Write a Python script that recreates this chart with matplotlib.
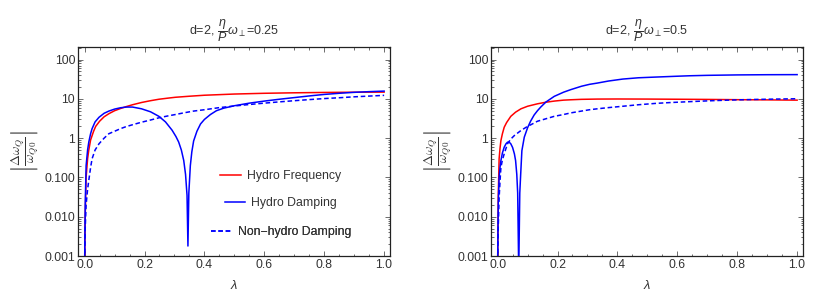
import matplotlib
matplotlib.use("Agg")
import matplotlib.pyplot as plt
from matplotlib.ticker import FixedLocator, FixedFormatter, MultipleLocator, LogLocator, NullFormatter
from matplotlib.lines import Line2D

plt.rcParams['font.family'] = ['Liberation Sans', 'DejaVu Sans']
plt.rcParams['mathtext.fontset'] = 'custom'
plt.rcParams['mathtext.rm'] = 'Liberation Sans'
plt.rcParams['mathtext.it'] = 'Liberation Sans:italic'
plt.rcParams['mathtext.fallback'] = 'stix'

# ---------------- data: left panel (eta/P * omega_perp = 0.25) ----------------
freq_L_lam = [0, 0.002, 0.005, 0.01, 0.014, 0.02, 0.03, 0.037, 0.05, 0.065, 0.081, 0.1, 0.12,
              0.137, 0.16, 0.19, 0.22, 0.248, 0.28, 0.303, 0.35, 0.4, 0.5, 0.6, 0.7, 0.8, 0.9, 1.0]
freq_L_val = [0.0005, 0.01, 0.1, 0.3, 0.5, 0.9, 1.5, 2.0, 2.7, 3.5, 4.2, 5.0, 5.7,
              6.3, 7.1, 8.1, 9.0, 9.8, 10.5, 11.0, 11.7, 12.4, 13.3, 13.9, 14.3, 14.6, 14.8, 14.9]

damp_L_lam = [0, 0.002, 0.005, 0.01, 0.014, 0.02, 0.025, 0.035, 0.048, 0.065, 0.081, 0.1, 0.12,
              0.14, 0.16, 0.19, 0.22, 0.248, 0.27, 0.292, 0.305, 0.314, 0.323, 0.331, 0.337,
              0.342, 0.345, 0.348, 0.353, 0.358, 0.364, 0.375, 0.387, 0.4, 0.42, 0.44, 0.464,
              0.5, 0.55, 0.6, 0.65, 0.7, 0.75, 0.8, 0.85, 0.9, 0.95, 1.0]
damp_L_val = [0.0005, 0.02, 0.2, 0.5, 0.8, 1.3, 1.75, 2.6, 3.4, 4.3, 4.9, 5.5, 5.95,
              6.2, 6.2, 5.6, 4.7, 3.6, 2.6, 1.6, 1.1, 0.8, 0.5, 0.27, 0.12,
              0.035, 0.0018, 0.04, 0.2, 0.45, 0.85, 1.5, 2.3, 3.0, 4.0, 5.0, 5.8,
              6.7, 7.8, 8.8, 9.8, 10.8, 11.9, 13.0, 13.9, 14.7, 15.3, 15.8]

nh_L_lam = [0, 0.002, 0.005, 0.01, 0.014, 0.02, 0.025, 0.035, 0.048, 0.065, 0.081, 0.1, 0.12,
            0.137, 0.16, 0.19, 0.22, 0.248, 0.275, 0.303, 0.33, 0.364, 0.4, 0.45, 0.5, 0.55,
            0.6, 0.65, 0.7, 0.75, 0.8, 0.85, 0.9, 0.95, 1.0]
nh_L_val = [0.0005, 0.005, 0.02, 0.05, 0.085, 0.18, 0.3, 0.5, 0.72, 1.0, 1.3, 1.5, 1.75,
            1.95, 2.2, 2.55, 2.9, 3.3, 3.65, 4.0, 4.4, 4.9, 5.3, 6.0, 6.6, 7.2,
            7.8, 8.4, 9.0, 9.6, 10.2, 10.7, 11.3, 11.8, 12.3]

# ---------------- data: right panel (eta/P * omega_perp = 0.5) ----------------
freq_R_lam = [0, 0.002, 0.005, 0.008, 0.011, 0.016, 0.022, 0.03, 0.044, 0.06, 0.078, 0.1, 0.133,
              0.16, 0.189, 0.22, 0.244, 0.28, 0.333, 0.4, 0.5, 0.6, 0.7, 0.8, 0.9, 1.0]
freq_R_val = [0.0005, 0.03, 0.3, 0.55, 0.87, 1.3, 1.9, 2.5, 3.6, 4.6, 5.6, 6.5, 7.5,
              8.2, 8.8, 9.3, 9.5, 9.75, 9.9, 9.95, 9.9, 9.8, 9.7, 9.55, 9.45, 9.3]

damp_R_lam = [0, 0.002, 0.005, 0.008, 0.011, 0.016, 0.022, 0.028, 0.033, 0.038, 0.044, 0.05,
              0.056, 0.06, 0.064, 0.067, 0.0705, 0.074, 0.077, 0.081, 0.089, 0.1, 0.11, 0.122,
              0.133, 0.144, 0.161, 0.189, 0.22, 0.244, 0.28, 0.307, 0.333, 0.37, 0.418, 0.47,
              0.529, 0.6, 0.64, 0.7, 0.751, 0.8, 0.9, 1.0]
damp_R_val = [0.0005, 0.02, 0.1, 0.18, 0.27, 0.42, 0.59, 0.72, 0.79, 0.8, 0.72, 0.58,
              0.4, 0.27, 0.12, 0.04, 0.0004, 0.04, 0.12, 0.48, 1.06, 1.84, 2.7, 3.9,
              5.0, 6.2, 8.3, 11.6, 14.8, 17.2, 21.0, 23.5, 25.3, 28.5, 32.0, 34.5,
              36.0, 37.8, 38.8, 39.8, 40.3, 40.8, 41.3, 41.5]

nh_R_lam = [0, 0.002, 0.005, 0.008, 0.011, 0.016, 0.022, 0.033, 0.044, 0.056, 0.078, 0.1, 0.111,
            0.133, 0.16, 0.189, 0.22, 0.244, 0.28, 0.307, 0.333, 0.37, 0.418, 0.47, 0.529,
            0.58, 0.64, 0.7, 0.751, 0.8, 0.862, 0.93, 1.0]
nh_R_val = [0.0005, 0.005, 0.03, 0.08, 0.18, 0.28, 0.4, 0.72, 0.95, 1.17, 1.57, 2.0, 2.2,
            2.7, 3.1, 3.6, 4.0, 4.4, 4.9, 5.3, 5.6, 6.0, 6.5, 7.1, 7.7,
            8.1, 8.5, 8.9, 9.2, 9.45, 9.7, 9.9, 10.1]

titles = [r"d=2, $\dfrac{\eta}{P}\omega_{\perp}$=0.25", r"d=2, $\dfrac{\eta}{P}\omega_{\perp}$=0.5"]
ytick_vals = [0.001, 0.01, 0.1, 1, 10, 100]
ytick_labels = ["0.001", "0.010", "0.100", "1", "10", "100"]
xtick_vals = [0.0, 0.2, 0.4, 0.6, 0.8, 1.0]
xtick_labels = ["0.0", "0.2", "0.4", "0.6", "0.8", "1.0"]
legend_labels = ["Hydro Frequency", "Hydro Damping", "Non\u2212hydro Damping"]
ylabel_text = r"$\left|\dfrac{\Delta\omega_Q}{\omega_{Q0}}\right|$"

RED = "#ff0000"
BLUE = "#0000ff"
TXT = "#333333"
FS = 8.8

fig = plt.figure(figsize=(8.30, 3.03), dpi=100)
axL = fig.add_axes([0.094, 0.155, 0.376, 0.69])
axR = fig.add_axes([0.5916, 0.155, 0.376, 0.69])

panels = [
    (axL, (freq_L_lam, freq_L_val), (damp_L_lam, damp_L_val), (nh_L_lam, nh_L_val), titles[0]),
    (axR, (freq_R_lam, freq_R_val), (damp_R_lam, damp_R_val), (nh_R_lam, nh_R_val), titles[1]),
]

lw = 1.1
for ax, fr, dp, nh, ttl in panels:
    ax.set_yscale('log')
    ax.plot(fr[0], fr[1], color=RED, lw=lw)
    ax.plot(dp[0], dp[1], color=BLUE, lw=lw)
    ax.plot(nh[0], nh[1], color=BLUE, lw=lw, dashes=(3, 1.8))
    ax.set_xlim(-0.022, 1.02)
    ax.set_ylim(0.001, 210)
    ax.yaxis.set_major_locator(FixedLocator(ytick_vals))
    ax.yaxis.set_major_formatter(FixedFormatter(ytick_labels))
    ax.yaxis.set_minor_locator(LogLocator(base=10, subs=range(2, 10), numticks=20))
    ax.yaxis.set_minor_formatter(NullFormatter())
    ax.xaxis.set_major_locator(FixedLocator(xtick_vals))
    ax.xaxis.set_major_formatter(FixedFormatter(xtick_labels))
    ax.xaxis.set_minor_locator(MultipleLocator(0.05))
    ax.tick_params(which='both', direction='in', top=True, right=True,
                   color='#555555', labelcolor=TXT, labelsize=FS, width=0.6)
    ax.tick_params(which='major', length=3.5, pad=2)
    ax.tick_params(which='minor', length=1.8)
    for s in ax.spines.values():
        s.set_linewidth(0.9)
        s.set_color('#222222')
    ax.set_title(ttl, fontsize=FS + 0.2, color=TXT, pad=9)
    ax.set_xlabel(r"$\lambda$", fontsize=FS + 0.5, color=TXT, labelpad=6)
    ax.set_ylabel(ylabel_text, fontsize=FS + 0.6, color=TXT, math_fontfamily='cm')
    ax.yaxis.set_label_coords(-0.12, 0.5)

handles = [Line2D([], [], color=RED, lw=lw),
           Line2D([], [], color=BLUE, lw=lw),
           Line2D([], [], color=BLUE, lw=lw, dashes=(3, 1.8))]
legend_y = [0.382, 0.252, 0.115]
for h, lab, yy in zip(handles, legend_labels, legend_y):
    lg = axL.legend(handles=[h], labels=[lab], loc='center', bbox_to_anchor=(0.65, yy),
                    bbox_transform=axL.transAxes, frameon=False, fontsize=FS,
                    handlelength=1.7, handletextpad=0.5, borderpad=0, borderaxespad=0)
    for t in lg.get_texts():
        t.set_color(TXT)
    axL.add_artist(lg)

fig.savefig("out.png", dpi=100)
